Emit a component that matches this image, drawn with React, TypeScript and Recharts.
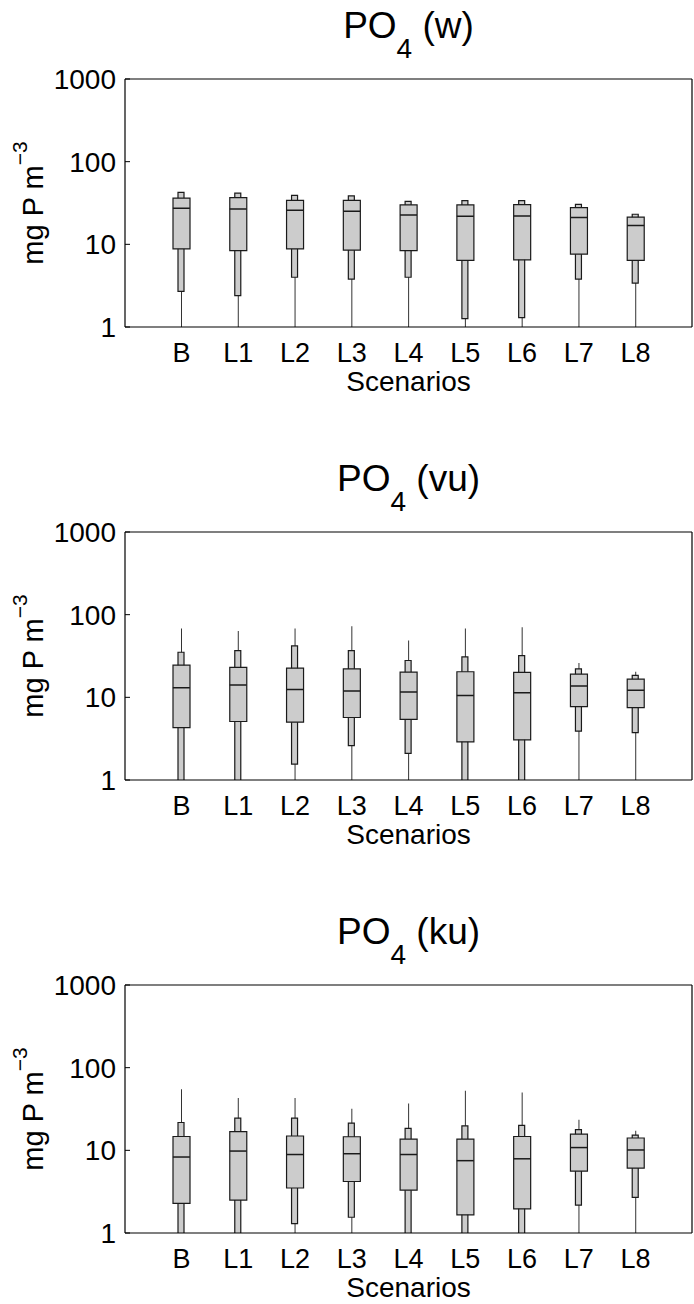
import React from 'react';
import { ComposedChart, Bar, Scatter, XAxis, YAxis } from 'recharts';

const categories = ['B', 'L1', 'L2', 'L3', 'L4', 'L5', 'L6', 'L7', 'L8'];
const yTicks = [1, 10, 100, 1000];

// PO4 (w) - whisker min is below the axis for every scenario
const wMin = [0.5, 0.5, 0.5, 0.5, 0.5, 0.5, 0.5, 0.5, 0.5];
const wP10 = [2.7, 2.4, 4.0, 3.8, 4.0, 1.26, 1.3, 3.8, 3.4];
const wQ1 = [8.8, 8.4, 8.8, 8.5, 8.4, 6.4, 6.5, 7.6, 6.4];
const wMed = [27.3, 26.8, 25.8, 25.1, 22.7, 21.9, 22.0, 21.1, 16.9];
const wQ3 = [36.3, 36.7, 34.0, 34.0, 30.0, 30.0, 30.2, 27.8, 21.3];
const wP90 = [42.4, 41.7, 39.0, 38.5, 33.0, 33.7, 33.7, 30.5, 23.1];
const wMax = [42.4, 41.7, 39.0, 38.5, 33.0, 33.7, 33.7, 30.5, 23.1];

// PO4 (vu)
const vuMin = [0.5, 0.5, 0.5, 0.5, 0.5, 0.5, 0.5, 0.5, 0.5];
const vuP10 = [0.5, 0.5, 1.56, 2.6, 2.1, 0.5, 0.5, 3.9, 3.75];
const vuQ1 = [4.3, 5.1, 5.0, 5.7, 5.4, 2.9, 3.06, 7.7, 7.5];
const vuMed = [13.1, 14.1, 12.4, 11.9, 11.6, 10.5, 11.4, 13.7, 12.2];
const vuQ3 = [24.5, 23.0, 22.5, 22.1, 20.2, 20.4, 20.0, 19.1, 16.6];
const vuP90 = [35.1, 36.8, 41.9, 36.8, 27.9, 30.8, 32.0, 22.1, 18.4];
const vuMax = [67.8, 63.4, 67.8, 72.3, 48.6, 67.8, 70.3, 26.1, 20.4];

// PO4 (ku)
const kuMin = [0.5, 0.5, 0.5, 0.5, 0.5, 0.5, 0.5, 0.5, 0.5];
const kuP10 = [0.5, 0.5, 1.3, 1.55, 0.5, 0.5, 0.5, 2.17, 2.7];
const kuQ1 = [2.28, 2.5, 3.5, 4.2, 3.3, 1.66, 1.96, 5.6, 6.1];
const kuMed = [8.3, 9.8, 8.9, 9.1, 8.9, 7.5, 7.9, 10.8, 10.1];
const kuQ3 = [14.7, 16.8, 14.9, 14.6, 13.7, 13.7, 14.7, 15.7, 14.1];
const kuP90 = [21.7, 24.5, 24.5, 21.3, 18.4, 19.8, 20.0, 17.8, 15.3];
const kuMax = [54.8, 43.1, 43.1, 31.8, 36.8, 52.4, 50.0, 23.4, 17.3];

interface Row {
  name: string;
  whisker: [number, number];
  inner: [number, number];
  box: [number, number];
  median: number;
}

const buildRows = (
  lo: number[], p10: number[], q1: number[], med: number[],
  q3: number[], p90: number[], hi: number[]
): Row[] =>
  categories.map((name, i) => ({
    name,
    whisker: [lo[i], hi[i]],
    inner: [p10[i], p90[i]],
    box: [q1[i], q3[i]],
    median: med[i],
  }));

const panels = [
  { label: 'w', rows: buildRows(wMin, wP10, wQ1, wMed, wQ3, wP90, wMax) },
  { label: 'vu', rows: buildRows(vuMin, vuP10, vuQ1, vuMed, vuQ3, vuP90, vuMax) },
  { label: 'ku', rows: buildRows(kuMin, kuP10, kuQ1, kuMed, kuQ3, kuP90, kuMax) },
];

const FONT = '"Liberation Sans", Arial, Helvetica, sans-serif';
const INK = '#1a1a1a';
const BOX_FILL = '#cccccc';
const PAD = { left: 28, right: 28 };

const MedianTick = (props: any) => {
  const { cx, cy } = props;
  if (cx == null || cy == null) return null;
  return <line x1={cx - 8.5} x2={cx + 8.5} y1={cy} y2={cy} stroke={INK} strokeWidth={1.5} />;
};

const YLabel = (props: any) => {
  const vb = props.viewBox || {};
  const cy = vb.y + vb.height / 2;
  const x = 43;
  return (
    <text
      x={x}
      y={cy}
      transform={`rotate(-90, ${x}, ${cy})`}
      textAnchor="middle"
      fontSize={29}
      fill="#000"
      fontFamily={FONT}
    >
      mg P m<tspan dy={-16} fontSize={21}>−3</tspan>
    </text>
  );
};

const XLabel = (props: any) => {
  const vb = props.viewBox || {};
  return (
    <text x={vb.x + vb.width / 2} y={vb.y + 64} textAnchor="middle" fontSize={28} fill="#000" fontFamily={FONT}>
      Scenarios
    </text>
  );
};

const BoxPanel = ({ label, rows, top }: { label: string; rows: Row[]; top: number }) => (
  <div style={{ position: 'absolute', left: 0, top, width: 694, height: 396 }}>
    <div
      style={{
        position: 'absolute',
        left: 125,
        top: 8,
        width: 567,
        textAlign: 'center',
        fontSize: 37,
        lineHeight: '36px',
        color: '#000',
        whiteSpace: 'nowrap',
      }}
    >
      PO<span style={{ fontSize: 28, position: 'relative', top: 20 }}>4</span> ({label})
    </div>
    <ComposedChart width={694} height={396} data={rows} margin={{ top: 78, right: 1, bottom: 29, left: 0 }}>
      <XAxis
        xAxisId="x"
        dataKey="name"
        interval={0}
        padding={PAD}
        height={40}
        tickLine={false}
        tickSize={0}
        tickMargin={16}
        tick={{ fontSize: 27, fill: '#000' }}
        axisLine={{ stroke: '#000', strokeWidth: 1.2 }}
        label={<XLabel />}
      />
      <XAxis xAxisId="n" dataKey="name" hide height={0} padding={PAD} />
      <XAxis xAxisId="b" dataKey="name" hide height={0} padding={PAD} />
      <XAxis
        xAxisId="top"
        orientation="top"
        dataKey="name"
        padding={PAD}
        height={1}
        tick={false}
        tickLine={false}
        axisLine={{ stroke: '#000', strokeWidth: 1.2 }}
      />
      <YAxis
        yAxisId="y"
        type="number"
        scale="log"
        domain={[1, 1000]}
        ticks={yTicks}
        allowDataOverflow
        width={125}
        tickSize={-5}
        tickMargin={14}
        tickLine={{ stroke: '#000' }}
        tick={{ fontSize: 28, fill: '#000' }}
        axisLine={{ stroke: '#000', strokeWidth: 1.2 }}
        label={<YLabel />}
      />
      <YAxis
        yAxisId="right"
        orientation="right"
        type="number"
        scale="log"
        domain={[1, 1000]}
        width={1}
        tick={false}
        tickLine={false}
        axisLine={{ stroke: '#000', strokeWidth: 1.2 }}
      />
      <Bar xAxisId="x" yAxisId="y" dataKey="whisker" barSize={1} fill="#333" isAnimationActive={false} />
      <Bar
        xAxisId="n"
        yAxisId="y"
        dataKey="inner"
        barSize={6}
        fill={BOX_FILL}
        stroke={INK}
        strokeWidth={1.2}
        isAnimationActive={false}
      />
      <Bar
        xAxisId="b"
        yAxisId="y"
        dataKey="box"
        barSize={17}
        fill={BOX_FILL}
        stroke={INK}
        strokeWidth={1.2}
        isAnimationActive={false}
      />
      <Scatter xAxisId="b" yAxisId="y" dataKey="median" shape={MedianTick} isAnimationActive={false} />
    </ComposedChart>
  </div>
);

export default function App() {
  return (
    <div
      style={{
        position: 'absolute',
        left: 0,
        top: 0,
        width: 694,
        height: 1304,
        overflow: 'hidden',
        background: '#fff',
        fontFamily: FONT,
      }}
    >
      {panels.map((p, i) => (
        <BoxPanel key={p.label} label={p.label} rows={p.rows} top={i * 453} />
      ))}
    </div>
  );
}
